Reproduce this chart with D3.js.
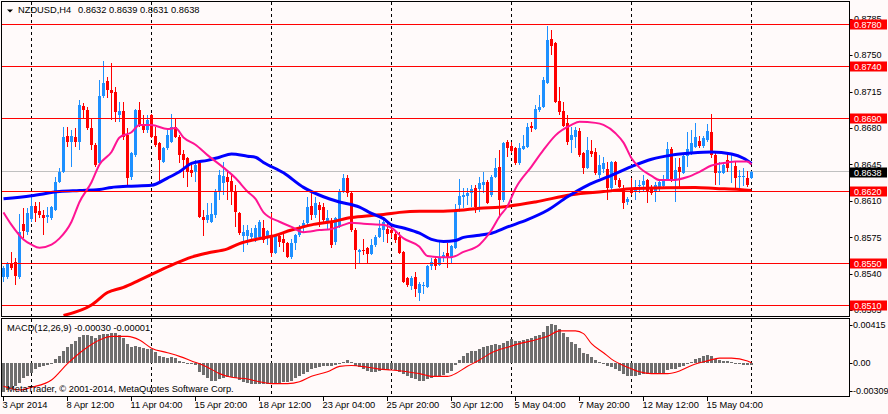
<!DOCTYPE html>
<html>
<head>
<meta charset="utf-8">
<script src="https://cdn.jsdelivr.net/npm/d3@7/dist/d3.min.js"></script>
<style>
html, body { margin: 0; padding: 0; background: #fffafa; }
svg { display: block; font-family: "Liberation Sans", Arial, sans-serif; }
</style>
</head>
<body>
<svg id="chart" width="888" height="414"></svg>
<script>
// NZDUSD H4, bar 0 = 3 Apr 2014 20:00 ... bar 187 = 16 May 2014 20:00
var symbol = "NZDUSD,H4";
var open = [0.8537,0.8537,0.8550,0.8551,0.8537,0.8588,0.8580,0.8593,0.8605,0.8600,
  0.8596,0.8595,0.8594,0.8601,0.8628,0.8638,0.8672,0.8667,0.8671,0.8667,
  0.8701,0.8697,0.8680,0.8664,0.8646,0.8711,0.8725,0.8717,0.8715,0.8693,
  0.8696,0.8673,0.8633,0.8654,0.8697,0.8683,0.8678,0.8693,0.8672,0.8666,
  0.8647,0.8661,0.8667,0.8681,0.8671,0.8655,0.8651,0.8640,0.8638,0.8646,
  0.8595,0.8592,0.8590,0.8596,0.8619,0.8627,0.8633,0.8629,0.8620,0.8598,
  0.8576,0.8576,0.8575,0.8574,0.8575,0.8584,0.8575,0.8577,0.8560,0.8576,
  0.8573,0.8570,0.8556,0.8570,0.8577,0.8584,0.8589,0.8605,0.8596,0.8606,
  0.8604,0.8589,0.8590,0.8571,0.8585,0.8619,0.8632,0.8618,0.8582,0.8561,
  0.8563,0.8565,0.8559,0.8568,0.8575,0.8582,0.8583,0.8582,0.8578,0.8575,
  0.8561,0.8536,0.8528,0.8537,0.8522,0.8528,0.8527,0.8547,0.8554,0.8548,
  0.8555,0.8560,0.8555,0.8565,0.8606,0.8614,0.8615,0.8618,0.8622,0.8621,
  0.8625,0.8628,0.8616,0.8633,0.8643,0.8611,0.8667,0.8663,0.8661,0.8646,
  0.8660,0.8662,0.8682,0.8679,0.8697,0.8700,0.8723,0.8766,0.8762,0.8706,
  0.8696,0.8685,0.8669,0.8671,0.8677,0.8656,0.8642,0.8658,0.8657,0.8635,
  0.8641,0.8641,0.8622,0.8647,0.8630,0.8622,0.8609,0.8622,0.8619,0.8624,
  0.8625,0.8630,0.8621,0.8620,0.8622,0.8624,0.8630,0.8660,0.8631,0.8643,
  0.8637,0.8653,0.8656,0.8662,0.8668,0.8663,0.8669,0.8676,0.8654,0.8637,
  0.8637,0.8649,0.8647,0.8644,0.8633,0.8633,0.8632,0.8632];
var high = [0.8547,0.8551,0.8561,0.8555,0.8597,0.8603,0.8603,0.8614,0.8609,0.8609,
  0.8601,0.8604,0.8605,0.8633,0.8642,0.8681,0.8681,0.8678,0.8680,0.8707,
  0.8704,0.8700,0.8690,0.8666,0.8726,0.8744,0.8729,0.8743,0.8719,0.8705,
  0.8705,0.8680,0.8657,0.8698,0.8705,0.8693,0.8693,0.8694,0.8681,0.8667,
  0.8662,0.8678,0.8694,0.8690,0.8673,0.8659,0.8652,0.8647,0.8649,0.8647,
  0.8601,0.8608,0.8608,0.8621,0.8640,0.8647,0.8640,0.8635,0.8625,0.8599,
  0.8587,0.8587,0.8584,0.8587,0.8592,0.8592,0.8582,0.8598,0.8577,0.8578,
  0.8579,0.8571,0.8573,0.8578,0.8587,0.8592,0.8614,0.8620,0.8614,0.8609,
  0.8608,0.8601,0.8594,0.8595,0.8621,0.8636,0.8635,0.8619,0.8584,0.8564,
  0.8573,0.8566,0.8573,0.8577,0.8592,0.8592,0.8589,0.8585,0.8582,0.8580,
  0.8562,0.8537,0.8538,0.8542,0.8532,0.8532,0.8548,0.8555,0.8557,0.8571,
  0.8561,0.8570,0.8568,0.8607,0.8631,0.8622,0.8622,0.8625,0.8625,0.8633,
  0.8638,0.8630,0.8635,0.8651,0.8659,0.8667,0.8669,0.8667,0.8662,0.8666,
  0.8673,0.8685,0.8686,0.8702,0.8712,0.8729,0.8778,0.8774,0.8763,0.8719,
  0.8705,0.8693,0.8681,0.8681,0.8680,0.8657,0.8671,0.8669,0.8661,0.8654,
  0.8652,0.8647,0.8648,0.8648,0.8632,0.8625,0.8614,0.8632,0.8630,0.8630,
  0.8635,0.8631,0.8625,0.8628,0.8630,0.8635,0.8667,0.8662,0.8651,0.8651,
  0.8654,0.8676,0.8678,0.8685,0.8672,0.8672,0.8684,0.8694,0.8656,0.8647,
  0.8647,0.8656,0.8656,0.8647,0.8640,0.8642,0.8639,0.8639];
var low = [0.8532,0.8535,0.8544,0.8529,0.8535,0.8574,0.8577,0.8590,0.8590,0.8594,
  0.8577,0.8589,0.8592,0.8600,0.8627,0.8637,0.8662,0.8643,0.8662,0.8659,
  0.8690,0.8678,0.8659,0.8643,0.8645,0.8709,0.8709,0.8688,0.8686,0.8686,
  0.8669,0.8625,0.8630,0.8652,0.8681,0.8675,0.8675,0.8670,0.8662,0.8628,
  0.8646,0.8659,0.8666,0.8670,0.8646,0.8632,0.8623,0.8633,0.8628,0.8594,
  0.8576,0.8589,0.8589,0.8594,0.8611,0.8616,0.8611,0.8606,0.8585,0.8577,
  0.8561,0.8568,0.8572,0.8571,0.8572,0.8570,0.8568,0.8556,0.8559,0.8566,
  0.8561,0.8555,0.8554,0.8563,0.8575,0.8580,0.8587,0.8592,0.8594,0.8585,
  0.8590,0.8582,0.8565,0.8568,0.8584,0.8618,0.8614,0.8580,0.8545,0.8550,
  0.8558,0.8550,0.8558,0.8566,0.8574,0.8571,0.8570,0.8574,0.8570,0.8559,
  0.8531,0.8527,0.8524,0.8518,0.8514,0.8521,0.8526,0.8544,0.8544,0.8547,
  0.8551,0.8546,0.8550,0.8564,0.8599,0.8603,0.8606,0.8604,0.8598,0.8599,
  0.8618,0.8607,0.8614,0.8632,0.8594,0.8609,0.8652,0.8656,0.8645,0.8645,
  0.8659,0.8661,0.8676,0.8678,0.8695,0.8699,0.8722,0.8750,0.8704,0.8693,
  0.8681,0.8664,0.8656,0.8661,0.8652,0.8636,0.8641,0.8652,0.8635,0.8632,
  0.8637,0.8611,0.8620,0.8625,0.8622,0.8602,0.8606,0.8616,0.8611,0.8618,
  0.8619,0.8608,0.8616,0.8609,0.8619,0.8622,0.8629,0.8628,0.8609,0.8621,
  0.8636,0.8643,0.8654,0.8661,0.8661,0.8661,0.8667,0.8651,0.8625,0.8625,
  0.8636,0.8638,0.8627,0.8622,0.8622,0.8624,0.8623,0.8631];
var close = [0.8546,0.8549,0.8546,0.8538,0.8580,0.8581,0.8598,0.8605,0.8598,0.8596,
  0.8594,0.8596,0.8604,0.8628,0.8638,0.8671,0.8667,0.8672,0.8667,0.8702,
  0.8697,0.8680,0.8664,0.8645,0.8711,0.8723,0.8717,0.8714,0.8695,0.8696,
  0.8671,0.8632,0.8656,0.8697,0.8683,0.8678,0.8688,0.8671,0.8664,0.8649,
  0.8661,0.8673,0.8681,0.8671,0.8654,0.8649,0.8638,0.8637,0.8645,0.8595,
  0.8592,0.8596,0.8597,0.8619,0.8635,0.8634,0.8628,0.8619,0.8599,0.8579,
  0.8580,0.8582,0.8579,0.8584,0.8590,0.8572,0.8581,0.8560,0.8576,0.8571,
  0.8570,0.8556,0.8570,0.8577,0.8584,0.8589,0.8604,0.8596,0.8608,0.8601,
  0.8592,0.8594,0.8568,0.8594,0.8619,0.8632,0.8618,0.8582,0.8563,0.8563,
  0.8562,0.8559,0.8568,0.8575,0.8584,0.8590,0.8578,0.8579,0.8572,0.8560,
  0.8532,0.8529,0.8536,0.8525,0.8530,0.8529,0.8547,0.8551,0.8547,0.8556,
  0.8558,0.8555,0.8567,0.8599,0.8615,0.8616,0.8618,0.8621,0.8604,0.8627,
  0.8628,0.8608,0.8633,0.8642,0.8611,0.8666,0.8661,0.8658,0.8646,0.8661,
  0.8663,0.8681,0.8680,0.8698,0.8700,0.8726,0.8765,0.8759,0.8705,0.8695,
  0.8682,0.8667,0.8673,0.8678,0.8654,0.8642,0.8659,0.8655,0.8637,0.8645,
  0.8646,0.8622,0.8647,0.8630,0.8623,0.8608,0.8612,0.8618,0.8623,0.8625,
  0.8629,0.8619,0.8618,0.8625,0.8628,0.8630,0.8660,0.8630,0.8640,0.8638,
  0.8653,0.8660,0.8666,0.8671,0.8663,0.8670,0.8677,0.8654,0.8637,0.8639,
  0.8645,0.8642,0.8648,0.8632,0.8634,0.8634,0.8625,0.8638];

// moving averages: [bar, price]
var blueMA = [[0,0.8612],[7,0.8615],[14,0.8619],[19,0.8620],[24,0.8621],[27,0.8623],[31,0.8624],
  [37,0.8625],[41,0.8632],[44,0.8638],[47,0.8646],[51,0.8649],[54,0.8652],[57,0.8655],[61,0.8653],
  [63,0.8652],[65,0.8647],[70,0.8637],[75,0.8623],[80,0.8614],[84,0.8609],[89,0.8604],[92,0.8598],
  [95,0.8593],[97,0.8587],[100,0.8584],[104,0.8579],[107,0.8573],[110,0.8571],[113,0.8572],[115,0.8575],
  [119,0.8577],[122,0.8579],[126,0.8585],[131,0.8592],[136,0.8601],[141,0.8614],[146,0.8625],[151,0.8633],
  [157,0.8643],[162,0.8650],[167,0.8654],[172,0.8656],[177,0.8657],[182,0.8655],[185,0.8651],[187,0.8646]];
var pinkMA = [[0,0.8599],[2,0.8587],[5,0.8573],[7,0.8568],[9,0.8565],[12,0.8568],[14,0.8574],[17,0.8590],
  [19,0.8609],[22,0.8628],[24,0.8645],[27,0.8657],[29,0.8671],[32,0.8676],[34,0.8683],[37,0.8683],
  [41,0.8679],[43,0.8680],[45,0.8671],[48,0.8664],[51,0.8654],[55,0.8642],[58,0.8632],[61,0.8619],
  [63,0.8612],[65,0.8599],[69,0.8590],[72,0.8585],[75,0.8580],[79,0.8582],[82,0.8583],[85,0.8587],
  [87,0.8589],[90,0.8588],[95,0.8587],[97,0.8584],[100,0.8574],[104,0.8566],[106,0.8557],[109,0.8556],
  [112,0.8556],[115,0.8561],[119,0.8568],[122,0.8582],[124,0.8595],[126,0.8605],[128,0.8622],[132,0.8643],
  [135,0.8659],[138,0.8673],[142,0.8683],[144,0.8686],[148,0.8685],[150,0.8683],[153,0.8675],[155,0.8666],
  [157,0.8651],[159,0.8642],[162,0.8634],[164,0.8630],[167,0.8630],[171,0.8633],[174,0.8638],[177,0.8644],
  [181,0.8647],[183,0.8648],[186,0.8648],[187,0.8645]];
var redMA = [[15,0.8500],[22,0.8510],[26,0.8522],[30,0.8527],[34,0.8534],[39,0.8543],[43,0.8550],[47,0.8556],
  [51,0.8560],[56,0.8564],[59,0.8569],[63,0.8573],[67,0.8576],[72,0.8582],[77,0.8587],[82,0.8590],
  [87,0.8594],[92,0.8596],[95,0.8597],[99,0.8599],[104,0.8600],[109,0.8600],[114,0.8601],[119,0.8603],
  [124,0.8604],[133,0.8609],[142,0.8616],[150,0.8619],[158,0.8622],[173,0.8623],[178,0.8622],
  [184,0.8621],[187,0.8620]];

var levels = [0.8780, 0.8740, 0.8690, 0.8620, 0.8550, 0.8510];
var bid = 0.8638;
var priceTicks = [0.8785, 0.8750, 0.8715, 0.8680, 0.8645, 0.8610, 0.8575, 0.8540, 0.8505];

var macdHist = [-0.0032,-0.0030,-0.0028,-0.0026,-0.0022,-0.0017,-0.0015,-0.0011,-0.0007,-0.0005,
  -0.0004,-0.0003,-0.0001,0.0004,0.0007,0.0013,0.0017,0.0021,0.0024,0.0028,
  0.0030,0.0031,0.0029,0.0027,0.0030,0.0032,0.0032,0.0033,0.0033,0.0030,
  0.0027,0.0021,0.0017,0.0018,0.0017,0.0016,0.0015,0.0015,0.0012,0.0007,
  0.0006,0.0005,0.0006,0.0005,0.0002,0.0001,-0.0001,-0.0001,-0.0003,-0.0010,
  -0.0014,-0.0017,-0.0020,-0.0020,-0.0018,-0.0017,-0.0016,-0.0016,-0.0017,-0.0019,
  -0.0021,-0.0022,-0.0023,-0.0023,-0.0023,-0.0023,-0.0023,-0.0023,-0.0023,-0.0022,
  -0.0021,-0.0021,-0.0020,-0.0017,-0.0015,-0.0012,-0.0010,-0.0007,-0.0006,-0.0005,
  -0.0004,-0.0004,-0.0004,-0.0003,-0.0001,0.0001,0.0003,0.0001,-0.0004,-0.0005,
  -0.0007,-0.0009,-0.0010,-0.0010,-0.0009,-0.0008,-0.0008,-0.0007,-0.0008,-0.0010,
  -0.0012,-0.0015,-0.0017,-0.0018,-0.0020,-0.0020,-0.0018,-0.0017,-0.0015,-0.0015,
  -0.0013,-0.0011,-0.0009,-0.0003,0.0003,0.0007,0.0011,0.0013,0.0013,0.0015,
  0.0017,0.0018,0.0019,0.0021,0.0019,0.0022,0.0024,0.0026,0.0024,0.0024,
  0.0025,0.0026,0.0027,0.0029,0.0030,0.0034,0.0040,0.0043,0.0041,0.0037,
  0.0033,0.0028,0.0023,0.0021,0.0016,0.0011,0.0010,0.0006,0.0003,0.0001,
  -0.0001,-0.0004,-0.0005,-0.0007,-0.0009,-0.0012,-0.0015,-0.0015,-0.0015,-0.0014,
  -0.0012,-0.0012,-0.0012,-0.0012,-0.0012,-0.0012,-0.0008,-0.0007,-0.0007,-0.0005,
  -0.0004,-0.0001,0.0001,0.0004,0.0005,0.0007,0.0008,0.0007,0.0004,0.0003,
  0.0002,0.0002,0.0001,-0.00005,-0.0001,-0.0002,-0.0003,-0.0003];
var macdSignal = [[0,-0.0026],[4,-0.0030],[7,-0.0027],[12,-0.0019],[16,-0.0001],[20,0.0014],[24,0.0025],
  [27,0.0029],[31,0.0029],[34,0.0025],[37,0.0016],[41,0.0011],[44,0.0007],[47,0.0002],[51,-0.0005],
  [54,-0.0012],[57,-0.0016],[61,-0.0018],[64,-0.0021],[67,-0.0023],[71,-0.0023],[74,-0.0021],[77,-0.0015],
  [81,-0.0010],[84,-0.0004],[87,-0.0003],[91,-0.0005],[94,-0.0007],[97,-0.0008],[101,-0.0010],[104,-0.0012],
  [107,-0.0015],[111,-0.0015],[112,-0.0014],[116,-0.0004],[119,0.0003],[122,0.0011],[126,0.0017],[129,0.0021],
  [132,0.0024],[136,0.0029],[139,0.0035],[143,0.0035],[145,0.0032],[147,0.0021],[150,0.0011],[152,0.0004],
  [156,-0.0005],[159,-0.0010],[162,-0.0012],[166,-0.0012],[169,-0.0009],[172,-0.0003],[176,0.0002],
  [179,0.0005],[182,0.0005],[186,0.0002],[187,-0.00001]];
var macdTicks = [0.00415, 0, -0.00309];
var macdTickText = ["0.00415", "0.00", "-0.00309"];

var gridBars = [7, 37, 67, 97, 127, 157, 187];
var dateBars = [0, 16, 32, 48, 64, 80, 96, 112, 128, 144, 160, 176];
var dateText = ["3 Apr 2014", "8 Apr 12:00", "11 Apr 04:00", "15 Apr 20:00", "18 Apr 12:00",
  "23 Apr 04:00", "25 Apr 20:00", "30 Apr 12:00", "5 May 04:00", "7 May 20:00",
  "12 May 12:00", "15 May 04:00"];

var bullColor = "#1e90ff", bearColor = "#ff0000";
var fontSize = "9.3px";

var svg = d3.select("#chart");
var left = 1.5, right = 849.5, mainTop = 1.5, mainBottom = 316.5, subTop = 318.5, subBottom = 396.5;

var x = d3.scaleLinear().domain([0, 187]).range([3.5, 751.5]);
var y = d3.scaleLinear().domain([0.8510, 0.8780]).range([305, 24]);
var ym = d3.scaleLinear().domain([-0.00309, 0.00415]).range([390.8, 325]);

svg.append("rect").attr("width", 888).attr("height", 414).attr("fill", "#fffafa");

var defs = svg.append("defs");
defs.append("clipPath").attr("id", "clipMain").append("rect")
  .attr("x", left + 0.5).attr("y", mainTop + 0.5).attr("width", right - left - 1).attr("height", mainBottom - mainTop - 1);
defs.append("clipPath").attr("id", "clipSub").append("rect")
  .attr("x", left + 0.5).attr("y", subTop + 0.5).attr("width", right - left - 1).attr("height", subBottom - subTop - 1);

var gMain = svg.append("g").attr("clip-path", "url(#clipMain)");
var gSub = svg.append("g").attr("clip-path", "url(#clipSub)");

// vertical dashed grid
[[gMain, mainTop, mainBottom], [gSub, subTop, subBottom]].forEach(function(p) {
  p[0].selectAll("line.grid").data(gridBars).join("line")
    .attr("class", "grid")
    .attr("x1", function(d) { return x(d); }).attr("x2", function(d) { return x(d); })
    .attr("y1", p[1]).attr("y2", p[2])
    .attr("stroke", "#000").attr("stroke-dasharray", "3,3")
    .attr("shape-rendering", "crispEdges");
});

// bid line behind candles
gMain.append("line")
  .attr("x1", left).attr("x2", right)
  .attr("y1", y(bid)).attr("y2", y(bid))
  .attr("stroke", "#c0c0c0").attr("shape-rendering", "crispEdges");

// candles
var bars = d3.range(open.length).map(function(i) {
  return { i: i, o: open[i], h: high[i], l: low[i], c: close[i] };
});
function col(d) { return d.c >= d.o ? bullColor : bearColor; }

gMain.selectAll("line.wick").data(bars).join("line")
  .attr("class", "wick")
  .attr("x1", function(d) { return x(d.i); }).attr("x2", function(d) { return x(d.i); })
  .attr("y1", function(d) { return y(d.h); }).attr("y2", function(d) { return y(d.l); })
  .attr("stroke", col).attr("shape-rendering", "crispEdges");

gMain.selectAll("rect.body").data(bars).join("rect")
  .attr("class", "body")
  .attr("x", function(d) { return x(d.i) - 1.5; })
  .attr("width", 3)
  .attr("y", function(d) { return y(Math.max(d.o, d.c)); })
  .attr("height", function(d) { return Math.max(1, Math.abs(y(d.o) - y(d.c))); })
  .attr("fill", col).attr("shape-rendering", "crispEdges");

// moving averages
var maLine = d3.line()
  .x(function(d) { return x(d[0]); })
  .y(function(d) { return y(d[1]); })
  .curve(d3.curveMonotoneX);

gMain.append("path").datum(redMA).attr("d", maLine)
  .attr("fill", "none").attr("stroke", "#ff0000").attr("stroke-width", 3);
gMain.append("path").datum(blueMA).attr("d", maLine)
  .attr("fill", "none").attr("stroke", "#0000ff").attr("stroke-width", 3);
gMain.append("path").datum(pinkMA).attr("d", maLine)
  .attr("fill", "none").attr("stroke", "#ff1493").attr("stroke-width", 2);

// horizontal levels
gMain.selectAll("line.level").data(levels).join("line")
  .attr("class", "level")
  .attr("x1", left).attr("x2", right)
  .attr("y1", function(d) { return Math.round(y(d)) + 0.5; })
  .attr("y2", function(d) { return Math.round(y(d)) + 0.5; })
  .attr("stroke", "#ff0000");

// MACD histogram + signal
gSub.selectAll("rect.hist").data(macdHist).join("rect")
  .attr("class", "hist")
  .attr("x", function(d, i) { return x(i) - 1.5; })
  .attr("width", 3)
  .attr("y", function(d) { return Math.min(ym(d), ym(0)); })
  .attr("height", function(d) { return Math.max(1, Math.abs(ym(d) - ym(0))); })
  .attr("fill", "#6e6e6e").attr("shape-rendering", "crispEdges");

var sigLine = d3.line()
  .x(function(d) { return x(d[0]); })
  .y(function(d) { return ym(d[1]); })
  .curve(d3.curveMonotoneX);
gSub.append("path").datum(macdSignal).attr("d", sigLine)
  .attr("fill", "none").attr("stroke", "#ff0000").attr("stroke-width", 1.1);

// pane frames
[[mainTop, mainBottom], [subTop, subBottom]].forEach(function(p) {
  svg.append("rect")
    .attr("x", left).attr("y", p[0]).attr("width", right - left).attr("height", p[1] - p[0])
    .attr("fill", "none").attr("stroke", "#000");
});

// texts in panes
var title = svg.append("text").attr("y", 10).attr("dy", "0.35em")
  .attr("font-size", fontSize).attr("fill", "#000");
title.append("tspan").attr("x", 18).text(symbol);
title.append("tspan").attr("x", 78).text([open[187], high[187], low[187], close[187]].map(function(v) { return v.toFixed(4); }).join(" "));
svg.append("path").attr("d", "M7,9.5 L13,9.5 L10,12.5 Z").attr("fill", "#000");

svg.append("text").attr("x", 7).attr("y", 327.5).attr("dy", "0.35em")
  .attr("font-size", fontSize).attr("fill", "#000")
  .text("MACD(12,26,9) " + macdHist[187].toFixed(5) + " " + macdSignal[macdSignal.length - 1][1].toFixed(5));
svg.append("text").attr("x", 7).attr("y", 389).attr("dy", "0.35em")
  .attr("font-size", fontSize).attr("fill", "#000")
  .text("MetaTrader, \u00a9 2001-2014, MetaQuotes Software Corp.");

// price axis
var ax = svg.append("g").attr("font-size", "9px");
ax.selectAll("line.pt").data(priceTicks).join("line")
  .attr("x1", right).attr("x2", right + 3)
  .attr("y1", function(d) { return Math.round(y(d)) + 0.5; })
  .attr("y2", function(d) { return Math.round(y(d)) + 0.5; })
  .attr("stroke", "#000");
ax.selectAll("text.pt").data(priceTicks).join("text")
  .attr("x", 854).attr("y", function(d) { return y(d); }).attr("dy", "0.35em")
  .attr("fill", "#000").text(function(d) { return d.toFixed(4); });

var boxes = levels.map(function(v) { return { v: v, fill: "#ff0000" }; });
boxes.push({ v: bid, fill: "#000" });
var bx = ax.selectAll("g.box").data(boxes).join("g")
  .attr("transform", function(d) { return "translate(0," + Math.round(y(d.v)) + ")"; });
bx.append("rect").attr("x", 850).attr("y", -4.5).attr("width", 37).attr("height", 10)
  .attr("fill", function(d) { return d.fill; });
bx.append("text").attr("x", 854).attr("y", 0.5).attr("dy", "0.35em")
  .attr("fill", "#fff").text(function(d) { return d.v.toFixed(4); });

// macd axis
ax.selectAll("line.mt").data(macdTicks).join("line")
  .attr("x1", right).attr("x2", right + 3)
  .attr("y1", function(d) { return Math.round(ym(d)) + 0.5; })
  .attr("y2", function(d) { return Math.round(ym(d)) + 0.5; })
  .attr("stroke", "#000");
ax.selectAll("text.mt").data(macdTicks).join("text")
  .attr("x", 853).attr("y", function(d) { return ym(d); }).attr("dy", "0.35em")
  .attr("fill", "#000").text(function(d, i) { return macdTickText[i]; });

// time axis
var tx = svg.append("g").attr("font-size", fontSize);
tx.selectAll("line").data(dateBars).join("line")
  .attr("x1", function(d) { return x(d); }).attr("x2", function(d) { return x(d); })
  .attr("y1", subBottom).attr("y2", subBottom + 4)
  .attr("stroke", "#000").attr("shape-rendering", "crispEdges");
tx.selectAll("text").data(dateBars).join("text")
  .attr("x", function(d) { return x(d) - 1; }).attr("y", 405).attr("dy", "0.35em")
  .attr("fill", "#000").text(function(d, i) { return dateText[i]; });
</script>
</body>
</html>
